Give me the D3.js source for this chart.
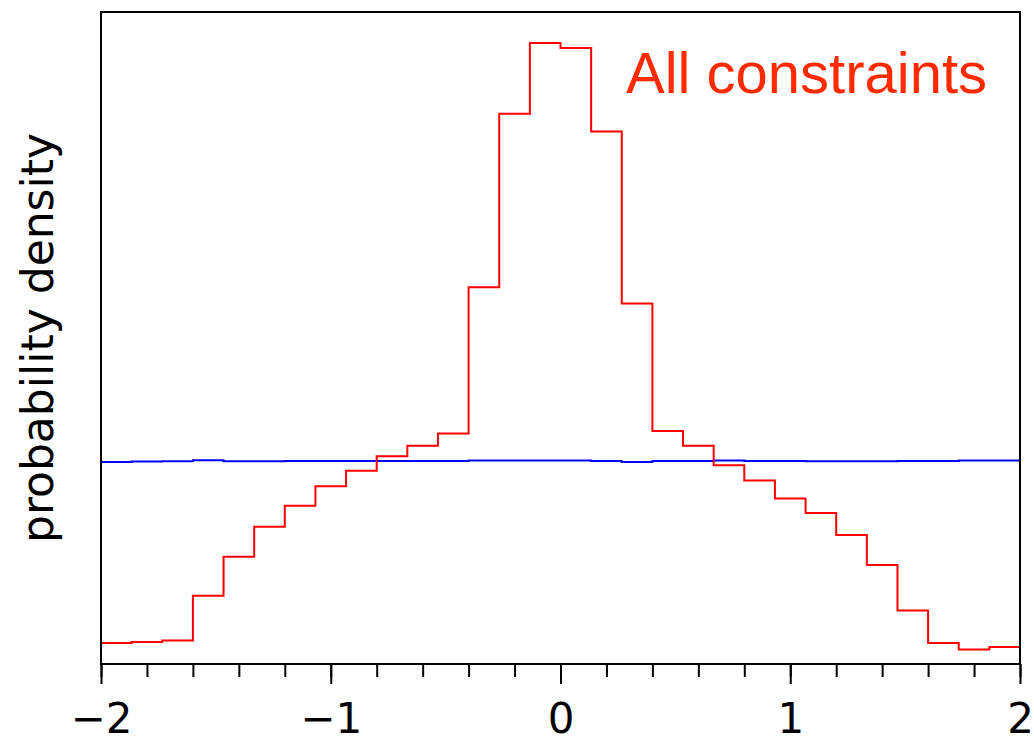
<!DOCTYPE html>
<html>
<head>
<meta charset="utf-8">
<script src="https://cdn.jsdelivr.net/npm/d3@7"></script>
<style>
  body { margin: 0; background: #fff; }
</style>
</head>
<body>
<div id="chart"></div>
<script>
// histogram range and bins
const xMin = -2, xMax = 2, nBins = 30;
const binEdges = d3.range(nBins + 1).map(i => xMin + i * (xMax - xMin) / nBins);

// probability density per bin
const constrained = [0.026, 0.027, 0.029, 0.084, 0.132, 0.169, 0.195, 0.219, 0.238, 0.256,
                     0.269, 0.284, 0.464, 0.678, 0.765, 0.759, 0.656, 0.444, 0.287, 0.269,
                     0.245, 0.226, 0.204, 0.186, 0.159, 0.122, 0.066, 0.026, 0.018, 0.021];
const prior = [0.2490, 0.2494, 0.2498, 0.2510, 0.2498, 0.2498, 0.2502, 0.2502, 0.2502, 0.2502,
               0.2502, 0.2502, 0.2506, 0.2506, 0.2506, 0.2506, 0.2502, 0.2490, 0.2502, 0.2502,
               0.2506, 0.2502, 0.2502, 0.2498, 0.2498, 0.2498, 0.2502, 0.2502, 0.2506, 0.2506];

const majorTicks = [-2, -1, 0, 1, 2];
const minorTicks = d3.range(-2, 2.001, 0.2);

const width = 1034, height = 738;
const margin = {top: 12, right: 14, bottom: 74, left: 101};

const svg = d3.select("#chart")
    .append("svg")
    .attr("width", width)
    .attr("height", height);

let xScale = d3.scaleLinear()
    .domain([xMin, xMax])
    .range([margin.left, width - margin.right]);

let yScale = d3.scaleLinear()
    .domain([0, d3.max(constrained) * 1.05])
    .range([height - margin.bottom, margin.top]);

function stepPoints(values) {
    let pts = [[binEdges[0], 0]];
    values.forEach((v, i) => pts.push([binEdges[i], v]));
    pts.push([binEdges[nBins], 0]);
    return pts;
}

let line = d3.line()
    .x(d => xScale(d[0]))
    .y(d => yScale(d[1]))
    .curve(d3.curveStepAfter);

svg.append("path")
    .datum(stepPoints(prior))
    .attr("fill", "none")
    .attr("stroke", "#0000ff")
    .attr("stroke-width", 2)
    .attr("d", line);

svg.append("path")
    .datum(stepPoints(constrained))
    .attr("fill", "none")
    .attr("stroke", "#ff0000")
    .attr("stroke-width", 2)
    .attr("d", line);

// frame
svg.append("rect")
    .attr("x", xScale(xMin))
    .attr("y", margin.top)
    .attr("width", xScale(xMax) - xScale(xMin))
    .attr("height", height - margin.bottom - margin.top)
    .attr("fill", "none")
    .attr("stroke", "black")
    .attr("stroke-width", 2);

// minor ticks
let minorAxis = svg.append("g")
    .attr("transform", `translate(0,${height - margin.bottom})`)
    .call(d3.axisBottom(xScale).tickValues(minorTicks).tickSize(13).tickFormat(""));
minorAxis.select(".domain").remove();
minorAxis.selectAll("line").attr("stroke-width", 2);

// major ticks with labels
let majorAxis = svg.append("g")
    .attr("transform", `translate(0,${height - margin.bottom})`)
    .call(d3.axisBottom(xScale).tickValues(majorTicks).tickSize(20).tickFormat(d3.format("d")));
majorAxis.select(".domain").remove();
majorAxis.selectAll("line").attr("stroke-width", 2);
majorAxis.selectAll("text")
    .attr("y", 69)
    .attr("dy", 0)
    .style("font-family", "'DejaVu Sans', sans-serif")
    .style("font-size", "42px")
    .attr("fill", "black");

svg.append("text")
    .attr("transform", `translate(53,${(margin.top + height - margin.bottom) / 2}) rotate(-90)`)
    .attr("text-anchor", "middle")
    .style("font-family", "'DejaVu Sans', sans-serif")
    .style("font-size", "44px")
    .text("probability density");

svg.append("text")
    .attr("x", 626)
    .attr("y", 93)
    .style("font-family", "'Liberation Sans', Arial, sans-serif")
    .style("font-size", "58px")
    .attr("fill", "#ff2a00")
    .text("All constraints");
</script>
</body>
</html>
